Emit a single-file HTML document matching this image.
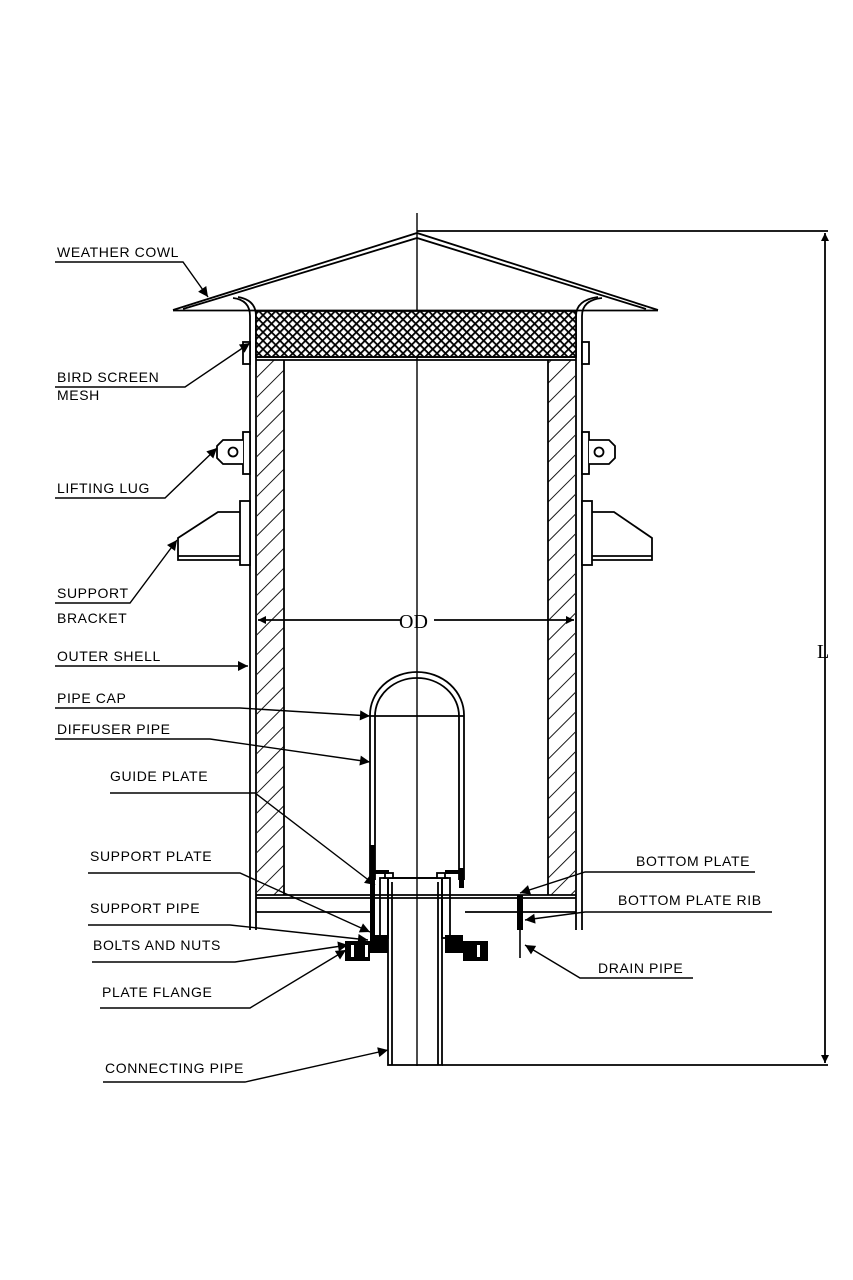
<!DOCTYPE html>
<html><head><meta charset="utf-8"><style>
html,body{margin:0;padding:0;background:#fff}
svg{display:block}
text{font-family:"Liberation Sans",sans-serif;font-size:14px;fill:#000;letter-spacing:0.6px}
</style></head><body>
<svg width="853" height="1280" viewBox="0 0 853 1280" xmlns="http://www.w3.org/2000/svg">
<defs>
<pattern id="hatch" width="14" height="14" patternUnits="userSpaceOnUse" patternTransform="rotate(45)">
<line x1="0" y1="0" x2="0" y2="14" stroke="#000" stroke-width="1.8"/></pattern>
<pattern id="mesh" width="6" height="6" patternUnits="userSpaceOnUse" patternTransform="rotate(45)">
<rect width="6" height="6" fill="#fff"/><line x1="0" y1="0" x2="6" y2="0" stroke="#000" stroke-width="3.6"/><line x1="0" y1="0" x2="0" y2="6" stroke="#000" stroke-width="3.6"/></pattern>
<marker id="ar" viewBox="0 0 10 10" refX="10" refY="5" markerWidth="20" markerHeight="10" markerUnits="userSpaceOnUse" orient="auto"><path d="M0,0 L10,5 L0,10z" fill="#000"/></marker>
<marker id="ar2" viewBox="0 0 10 10" refX="10" refY="5" markerWidth="14" markerHeight="8" markerUnits="userSpaceOnUse" orient="auto-start-reverse"><path d="M0,0 L10,5 L0,10z" fill="#000"/></marker>
</defs>
<g fill="none" stroke="#000" stroke-width="1.8">
<line x1="417" y1="213" x2="417" y2="1066" stroke-width="1.4"/>
<path d="M173,310 L417,233 L658,310"/>
<path d="M183,309 L417,238 L646,309"/>
<line x1="173" y1="310.5" x2="658" y2="310.5"/>
<path d="M233,298 Q250,300 250,316"/><path d="M238,297 Q256,300 256,316"/>
<path d="M602,298 Q582,300 582,316"/><path d="M598,297 Q576,300 576,316"/>
<line x1="417" y1="231" x2="828" y2="231"/>
<line x1="442" y1="1065" x2="828" y2="1065"/>
<line x1="825" y1="233" x2="825" y2="1063" marker-start="url(#ar2)" marker-end="url(#ar2)"/>
<line x1="250" y1="316" x2="250" y2="930"/><line x1="256" y1="316" x2="256" y2="930"/>
<line x1="576" y1="316" x2="576" y2="930"/><line x1="582" y1="316" x2="582" y2="930"/>
<rect x="256" y="311" width="320" height="46" fill="url(#mesh)"/>
<line x1="256" y1="357" x2="576" y2="357"/>
<rect x="243" y="342" width="7" height="22" fill="#fff"/><rect x="582" y="342" width="7" height="22" fill="#fff"/>
<rect x="257" y="360" width="27" height="535" fill="url(#hatch)" stroke="none"/>
<rect x="548" y="360" width="27" height="535" fill="url(#hatch)" stroke="none"/>
<line x1="284" y1="360" x2="284" y2="895"/><line x1="548" y1="360" x2="548" y2="895"/>
<line x1="256" y1="360" x2="576" y2="360"/>
<rect x="243" y="432" width="7" height="42" fill="#fff"/>
<path d="M243,440 L223,440 L217,446 L217,458 L223,464 L243,464" fill="#fff"/>
<circle cx="233" cy="452" r="4.5"/>
<rect x="582" y="432" width="7" height="42" fill="#fff"/>
<path d="M589,440 L609,440 L615,446 L615,458 L609,464 L589,464" fill="#fff"/>
<circle cx="599" cy="452" r="4.5"/>
<rect x="240" y="501" width="10" height="64" fill="#fff"/>
<path d="M240,512 L218,512 L178,538 L178,560 L240,560 M178,556 L240,556"/>
<rect x="582" y="501" width="10" height="64" fill="#fff"/>
<path d="M592,512 L614,512 L652,538 L652,560 L592,560 M652,556 L592,556"/>
<line x1="258" y1="620" x2="400" y2="620" marker-start="url(#ar2)"/>
<line x1="434" y1="620" x2="574" y2="620" marker-end="url(#ar2)"/>
<line x1="256" y1="895" x2="576" y2="895"/><line x1="256" y1="898" x2="576" y2="898"/>
<line x1="256" y1="912" x2="370" y2="912"/><line x1="465" y1="912" x2="576" y2="912"/>
<path d="M370,880 L370,715 A47,43 0 0 1 464,715 L464,880"/>
<path d="M375,880 L375,716 A42,38 0 0 1 459,716 L459,880"/>
<line x1="370" y1="716" x2="464" y2="716"/>
<rect x="388" y="878" width="54" height="187"/>
<line x1="392" y1="882" x2="392" y2="1065"/><line x1="438" y1="882" x2="438" y2="1065"/>
<line x1="383" y1="878" x2="448" y2="878"/>
<rect x="380" y="878" width="8" height="60"/><rect x="442" y="878" width="8" height="60"/>
<rect x="385" y="873" width="8" height="5" fill="#fff"/><rect x="437" y="873" width="8" height="5" fill="#fff"/>
</g>
<g fill="#000">
<rect x="370" y="845" width="5" height="90"/><rect x="459" y="868" width="5" height="20"/>
<rect x="375" y="870" width="14" height="4"/><rect x="445" y="870" width="14" height="4"/>
<rect x="370" y="935" width="18" height="18"/><rect x="445" y="935" width="18" height="18"/>
<rect x="345" y="941" width="25" height="20"/><rect x="463" y="941" width="25" height="20"/>
<rect x="517" y="895" width="6" height="35"/>
</g>
<g fill="#fff"><rect x="351" y="945" width="3" height="12"/><rect x="365" y="945" width="3" height="12"/><rect x="477" y="945" width="3" height="12"/></g>
<line x1="520" y1="930" x2="520" y2="958" stroke="#000" stroke-width="1.6"/>
<text x="399" y="628" style="font-family:'Liberation Serif',serif;font-size:20px;letter-spacing:0">OD</text>
<text x="817" y="658" style="font-family:'Liberation Serif',serif;font-size:20px;letter-spacing:0">L</text>
<g stroke="#000" stroke-width="1.4" fill="none">
<path d="M55,262 L183,262 L208,297" marker-end="url(#ar)"/>
<path d="M55,387 L185,387 L250,343" marker-end="url(#ar)"/>
<path d="M55,498 L165,498 L217,448" marker-end="url(#ar)"/>
<path d="M55,603 L130,603 L177,540" marker-end="url(#ar)"/>
<path d="M55,666 L248,666" marker-end="url(#ar)"/>
<path d="M55,708 L240,708 L370,716" marker-end="url(#ar)"/>
<path d="M55,739 L210,739 L370,762" marker-end="url(#ar)"/>
<path d="M110,793 L255,793 L375,885" marker-end="url(#ar)"/>
<path d="M88,873 L240,873 L370,932" marker-end="url(#ar)"/>
<path d="M88,925 L230,925 L368,940" marker-end="url(#ar)"/>
<path d="M92,962 L235,962 L348,945" marker-end="url(#ar)"/>
<path d="M100,1008 L250,1008 L346,950" marker-end="url(#ar)"/>
<path d="M103,1082 L245,1082 L388,1050" marker-end="url(#ar)"/>
<path d="M755,872 L585,872 L520,893" marker-end="url(#ar)"/>
<path d="M772,912 L585,912 L525,920" marker-end="url(#ar)"/>
<path d="M693,978 L580,978 L525,945" marker-end="url(#ar)"/>
</g>
<text x="57" y="257">WEATHER COWL</text>
<text x="57" y="382">BIRD SCREEN</text>
<text x="57" y="400">MESH</text>
<text x="57" y="493">LIFTING LUG</text>
<text x="57" y="598">SUPPORT</text>
<text x="57" y="623">BRACKET</text>
<text x="57" y="661">OUTER SHELL</text>
<text x="57" y="703">PIPE CAP</text>
<text x="57" y="734">DIFFUSER PIPE</text>
<text x="110" y="781">GUIDE PLATE</text>
<text x="90" y="861">SUPPORT PLATE</text>
<text x="90" y="913">SUPPORT PIPE</text>
<text x="93" y="950">BOLTS AND NUTS</text>
<text x="102" y="997">PLATE FLANGE</text>
<text x="105" y="1073">CONNECTING PIPE</text>
<text x="636" y="866">BOTTOM PLATE</text>
<text x="618" y="905">BOTTOM PLATE RIB</text>
<text x="598" y="973">DRAIN PIPE</text>
</svg>
</body></html>
